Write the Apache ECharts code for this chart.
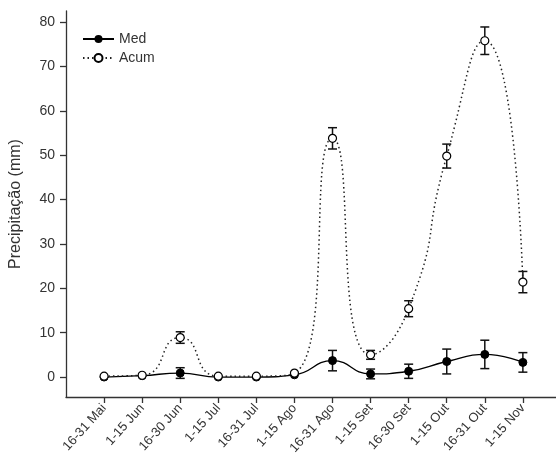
<!DOCTYPE html>
<html>
<head>
<meta charset="utf-8">
<script src="https://cdn.jsdelivr.net/npm/echarts@6/dist/echarts.min.js"></script>
<style>html,body{margin:0;padding:0;background:#fff;}#c{width:556px;height:464px;}</style>
</head>
<body>
<div id="c"></div>
<script>
var categories = ['16-31 Mai','1-15 Jun','16-30 Jun','1-15 Jul','16-31 Jul','1-15 Ago','16-31 Ago','1-15 Set','16-30 Set','1-15 Out','16-31 Out','1-15 Nov'];
var medValues = [0, 0.3, 0.9, 0, 0, 0.5, 3.7, 0.7, 1.3, 3.5, 5.1, 3.3];
var medErrors = [0, 0, 1.2, 0, 0, 0, 2.3, 1.1, 1.6, 2.8, 3.2, 2.2];
var acumValues = [0.2, 0.4, 8.9, 0.2, 0.2, 0.9, 53.8, 5.0, 15.4, 49.8, 75.8, 21.4];
var acumErrors = [0, 0, 1.3, 0, 0, 0, 2.4, 1.0, 1.8, 2.7, 3.1, 2.4];
var yTicks = [0, 10, 20, 30, 40, 50, 60, 70, 80];

var idx = categories.map(function (c, i) { return i; });
function pairs(v) { return v.map(function (y, i) { return [i, y]; }); }
function errData(v, e) { return v.map(function (y, i) { return [i, y, e[i]]; }).filter(function (d) { return d[2] > 0; }); }

function errRender(params, api) {
  var x = api.value(0), y = api.value(1), e = api.value(2);
  var lo = api.coord([x, y - e]), hi = api.coord([x, y + e]);
  var w = 4.5;
  var st = { stroke: '#111', lineWidth: 1.5 };
  return {
    type: 'group',
    children: [
      { type: 'line', shape: { x1: lo[0], y1: lo[1], x2: hi[0], y2: hi[1] }, style: st },
      { type: 'line', shape: { x1: lo[0] - w, y1: lo[1], x2: lo[0] + w, y2: lo[1] }, style: st },
      { type: 'line', shape: { x1: hi[0] - w, y1: hi[1], x2: hi[0] + w, y2: hi[1] }, style: st }
    ]
  };
}

var chart = echarts.init(document.getElementById('c'));
chart.setOption({
  animation: false,
  textStyle: { fontFamily: 'Liberation Sans', color: '#333' },
  grid: { left: 64, right: 0, top: 11, bottom: 67 },
  legend: {
    orient: 'vertical', left: 82, top: 32, padding: 0, itemWidth: 31, itemHeight: 10, itemGap: 5,
    textStyle: { fontSize: 14, color: '#333', fontFamily: 'Liberation Sans' },
    data: ['Med', 'Acum']
  },
  xAxis: {
    type: 'value', min: -1, max: 11.87,
    splitLine: { show: false },
    axisLine: { onZero: false, lineStyle: { color: '#333', width: 1.3 } },
    axisTick: { show: true, length: 6, customValues: idx, lineStyle: { color: '#333', width: 1.3 } },
    axisLabel: {
      customValues: idx, rotate: 48, fontSize: 13, color: '#333', margin: 9,
      formatter: function (v) { return categories[Math.round(v)]; }
    }
  },
  yAxis: {
    type: 'value', min: -4.5, max: 82.5,
    name: 'Precipitação (mm)', nameLocation: 'middle', nameGap: 42, nameRotate: 90,
    nameTextStyle: { fontSize: 16, color: '#333', fontFamily: 'Liberation Sans' },
    splitLine: { show: false },
    axisLine: { show: true, onZero: false, lineStyle: { color: '#333', width: 1.3 } },
    axisTick: { show: true, length: 6, customValues: yTicks, lineStyle: { color: '#333', width: 1.3 } },
    axisLabel: { customValues: yTicks, fontSize: 14, color: '#333', margin: 11 }
  },
  series: [
    {
      name: 'Med', type: 'line', data: pairs(medValues), smooth: 0.5,
      symbol: 'circle', symbolSize: 8,
      lineStyle: { color: '#000', width: 1.3 },
      itemStyle: { color: '#000', borderColor: '#000' }, z: 2
    },
    {
      name: 'Med err', type: 'custom', data: errData(medValues, medErrors),
      renderItem: errRender, z: 1, silent: true
    },
    {
      name: 'Acum', type: 'line', data: pairs(acumValues), smooth: 0.6,
      symbol: 'circle', symbolSize: 8,
      lineStyle: { color: '#222', width: 1.5, type: [1.5, 3] },
      itemStyle: { color: '#fff', borderColor: '#000', borderWidth: 1.2 }, z: 4
    },
    {
      name: 'Acum err', type: 'custom', data: errData(acumValues, acumErrors),
      renderItem: errRender, z: 3, silent: true
    }
  ]
});
</script>
</body>
</html>
